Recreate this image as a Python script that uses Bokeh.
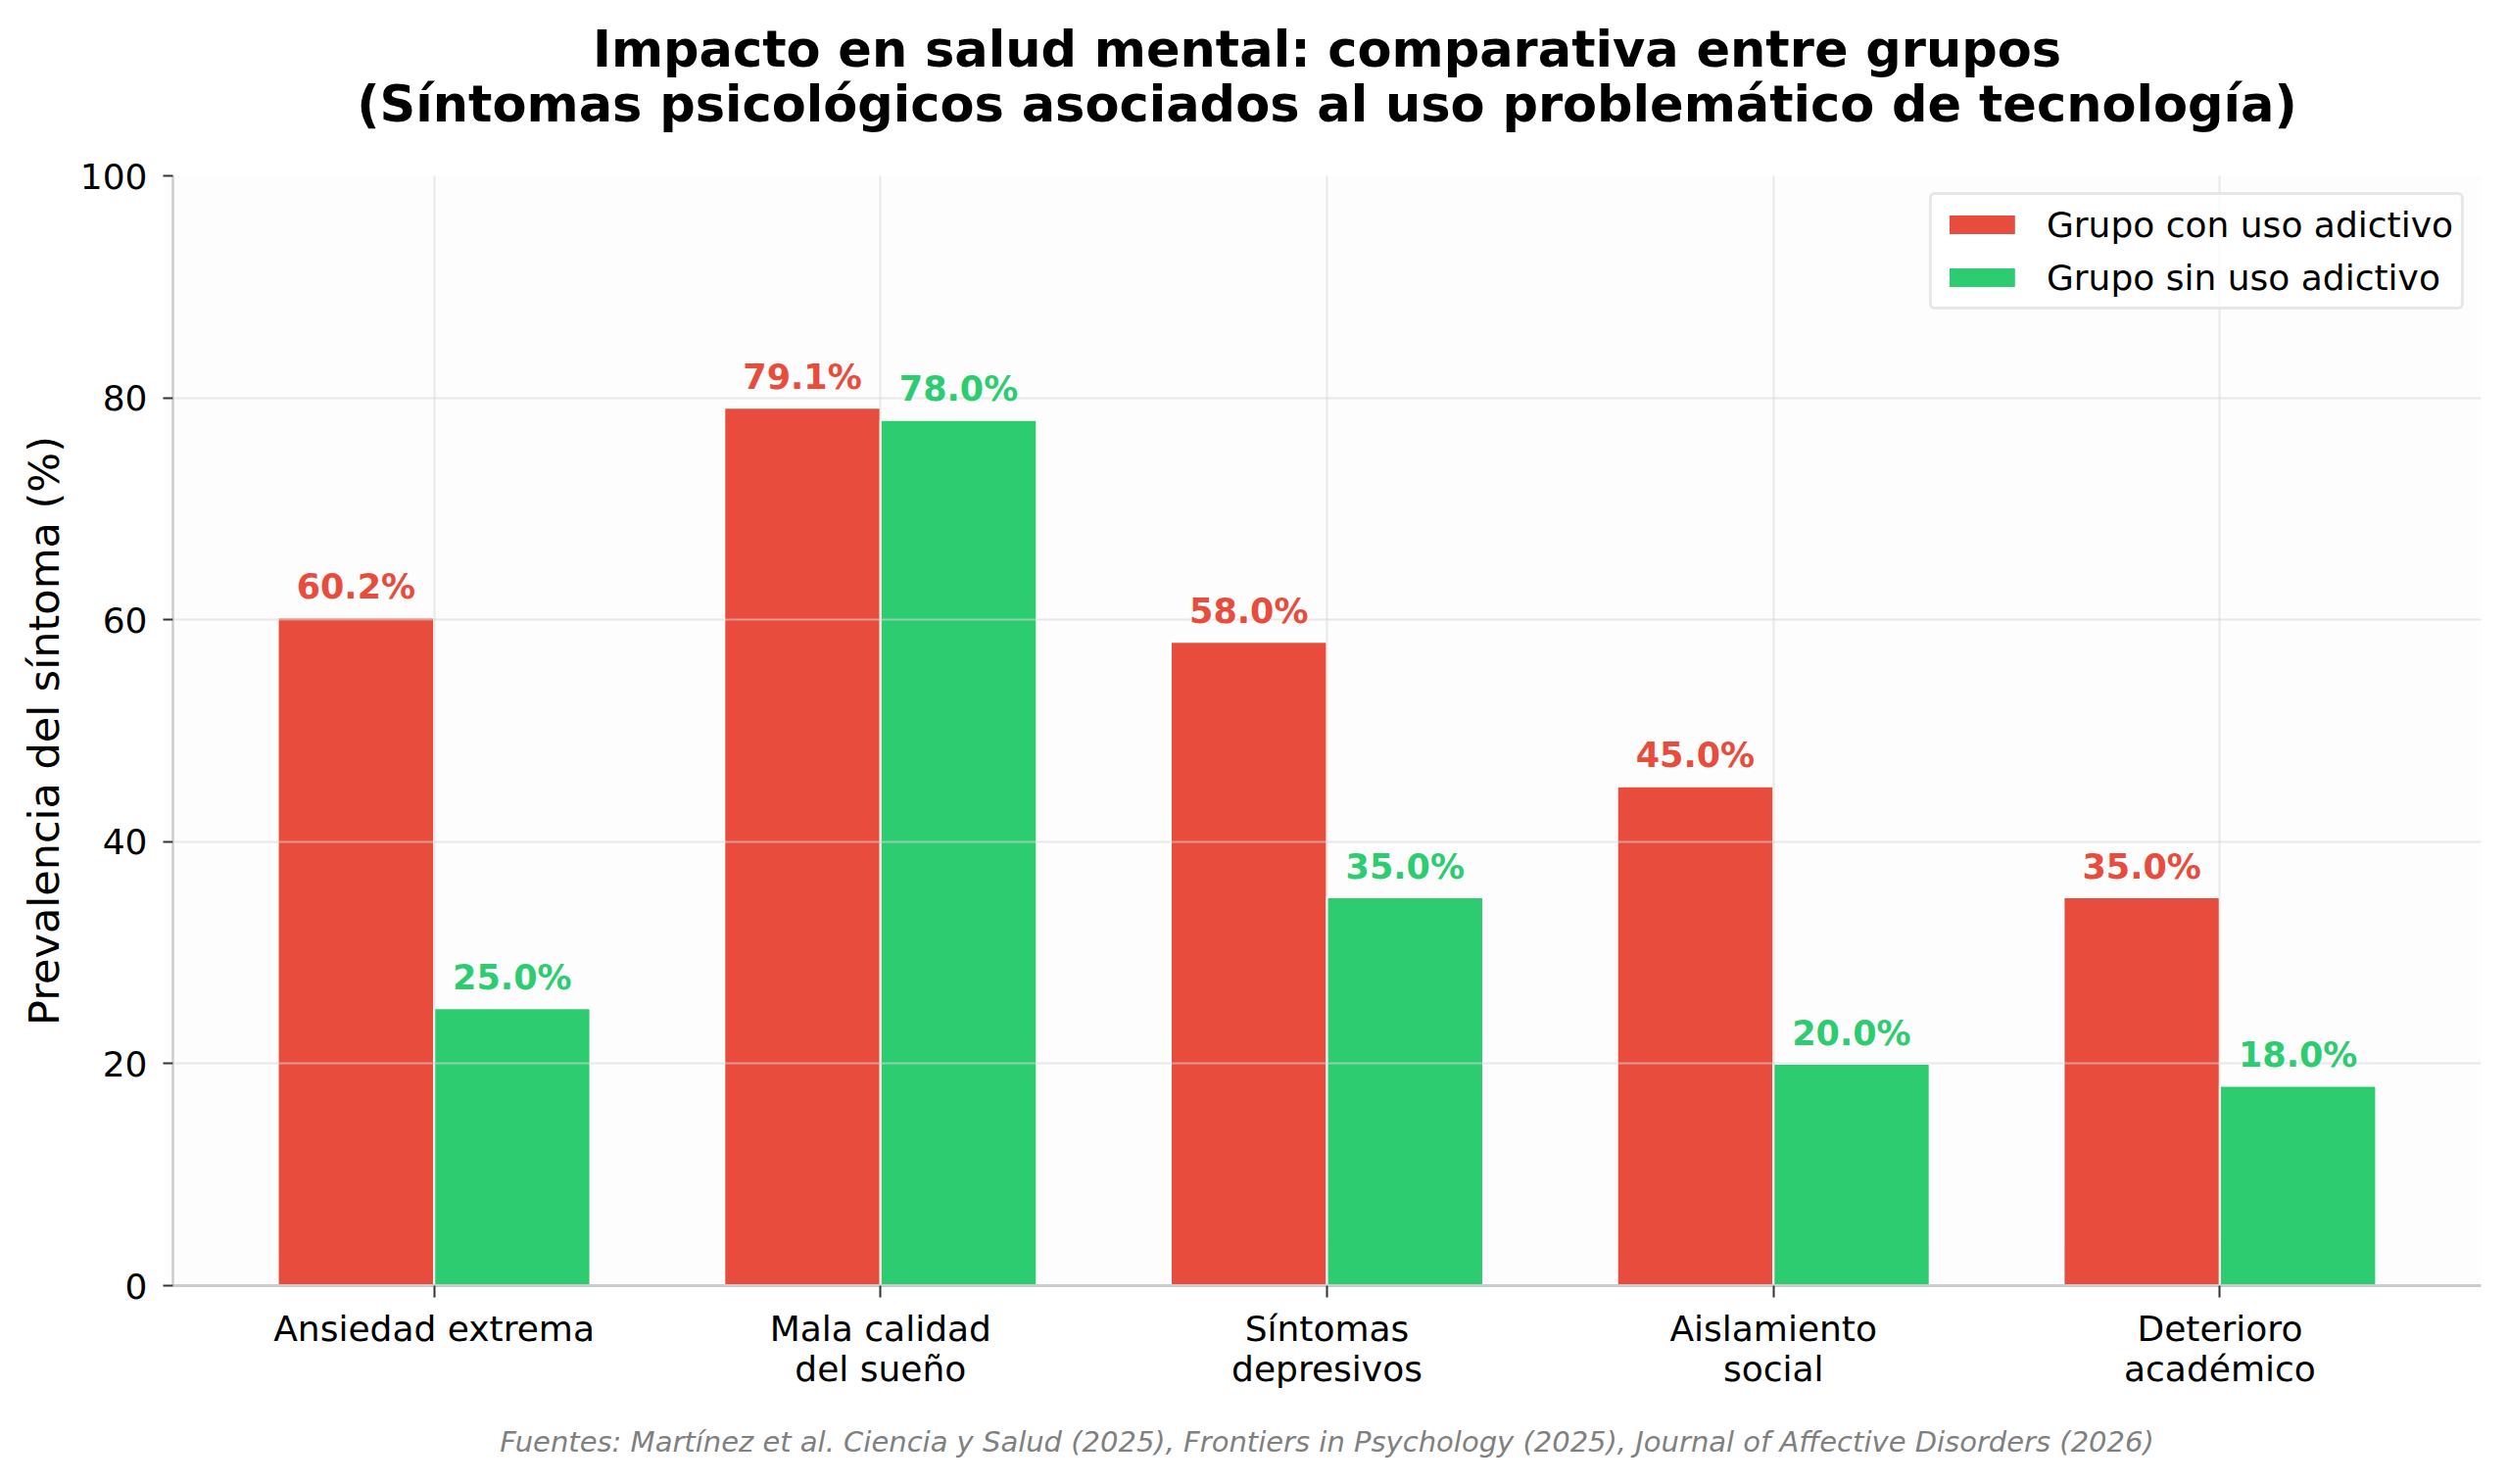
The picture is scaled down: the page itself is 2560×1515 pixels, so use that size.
from bokeh.plotting import figure
from bokeh.models import ColumnDataSource, Range1d, FixedTicker, Title
from bokeh.transform import dodge
from bokeh.core.properties import value
from bokeh.embed import file_html
from bokeh.resources import INLINE

# ---- data ----
categories = ["Ansiedad extrema", "Mala calidad\ndel sueño", "Síntomas\ndepresivos",
              "Aislamiento\nsocial", "Deterioro\nacadémico"]
series_names = ["Grupo con uso adictivo", "Grupo sin uso adictivo"]
con_adictivo = [60.2, 79.1, 58.0, 45.0, 35.0]
sin_adictivo = [25.0, 78.0, 35.0, 20.0, 18.0]
y_ticks = [0, 20, 40, 60, 80, 100]
title_line1 = "Impacto en salud mental: comparativa entre grupos"
title_line2 = "(Síntomas psicológicos asociados al uso problemático de tecnología)"
y_label = "Prevalencia del síntoma (%)"
footnote = ("Fuentes: Martínez et al. Ciencia y Salud (2025), Frontiers in Psychology (2025), "
            "Journal of Affective Disorders (2026)")

RED = "#e74c3c"
GREEN = "#2ecc71"
FONT = "DejaVu Sans"
BAR_W = 0.35

idx = list(range(len(categories)))
src = ColumnDataSource(dict(
    x=idx,
    a=con_adictivo,
    b=sin_adictivo,
    a_lab_y=[v + 1 for v in con_adictivo],
    b_lab_y=[v + 1 for v in sin_adictivo],
    a_txt=[f"{v:.1f}%" for v in con_adictivo],
    b_txt=[f"{v:.1f}%" for v in sin_adictivo],
))

p = figure(width=2544, height=1499,
           x_range=Range1d(-0.585, len(categories) - 1 + 0.585),
           y_range=Range1d(0, 100),
           output_backend="svg", toolbar_location=None,
           min_border_left=176, min_border_right=12,
           min_border_top=179, min_border_bottom=187)
p.background_fill_color = "#fdfdfd"
p.border_fill_color = "white"
p.outline_line_color = None

# title: line 2 added first so it sits next to the frame
p.add_layout(Title(text=title_line2, align="center", text_font=FONT,
                   text_font_size="51px", text_font_style="bold",
                   text_color="black", standoff=88), "above")
p.add_layout(Title(text=title_line1, align="center", text_font=FONT,
                   text_font_size="51px", text_font_style="bold",
                   text_color="black", standoff=-98), "above")

# bars
p.vbar(x=dodge("x", -BAR_W / 2, range=p.x_range), top="a", width=BAR_W, source=src,
       fill_color=RED, line_color="white", line_width=2, legend_label=series_names[0])
p.vbar(x=dodge("x", BAR_W / 2, range=p.x_range), top="b", width=BAR_W, source=src,
       fill_color=GREEN, line_color="white", line_width=2, legend_label=series_names[1])

# value labels
t1 = p.text(x=dodge("x", -BAR_W / 2, range=p.x_range), y="a_lab_y", text="a_txt", source=src,
            text_font=value(FONT), text_font_size="35px", text_font_style="bold",
            text_color=RED, text_align="center", text_baseline="bottom")
t2 = p.text(x=dodge("x", BAR_W / 2, range=p.x_range), y="b_lab_y", text="b_txt", source=src,
            text_font=value(FONT), text_font_size="35px", text_font_style="bold",
            text_color=GREEN, text_align="center", text_baseline="bottom")
t1.level = "overlay"
t2.level = "overlay"

# grids
p.xgrid.ticker = FixedTicker(ticks=idx)
p.ygrid.ticker = FixedTicker(ticks=y_ticks)
for g in (p.xgrid, p.ygrid):
    g.grid_line_color = "#d9d9d9"
    g.grid_line_alpha = 0.55
    g.grid_line_width = 2
    g.level = "annotation"

# x axis (footnote is carried as the axis label, centred under the plot)
xa = p.xaxis[0]
xa.ticker = FixedTicker(ticks=idx)
xa.major_label_overrides = {i: c for i, c in zip(idx, categories)}
xa.major_label_text_font = FONT
xa.major_label_text_font_size = "36px"
xa.major_label_text_color = "black"
xa.major_label_text_line_height = 1.0
xa.major_label_standoff = 11
xa.axis_line_color = "#cccccc"
xa.axis_line_width = 3
xa.major_tick_line_color = "#333333"
xa.major_tick_line_width = 2
xa.major_tick_out = 12
xa.major_tick_in = 0
xa.minor_tick_line_color = None
xa.axis_label = footnote
xa.axis_label_text_font = FONT
xa.axis_label_text_font_size = "29px"
xa.axis_label_text_font_style = "italic"
xa.axis_label_text_color = "#808080"
xa.axis_label_standoff = 34

ya = p.yaxis[0]
ya.ticker = FixedTicker(ticks=y_ticks)
ya.major_label_text_font = FONT
ya.major_label_text_font_size = "36px"
ya.major_label_text_color = "black"
ya.major_label_standoff = 16
ya.axis_label = y_label
ya.axis_label_text_font = FONT
ya.axis_label_text_font_size = "43px"
ya.axis_label_text_font_style = "normal"
ya.axis_label_text_color = "black"
ya.axis_label_standoff = 9
ya.axis_line_color = "#cccccc"
ya.axis_line_width = 2.5
ya.major_tick_line_color = "#333333"
ya.major_tick_line_width = 2
ya.major_tick_out = 10
ya.major_tick_in = 0
ya.minor_tick_line_color = None

# legend
lg = p.legend[0]
lg.location = "top_right"
lg.margin = 17
lg.padding = 8
lg.spacing = 10
lg.label_text_font = FONT
lg.label_text_font_size = "36px"
lg.label_text_color = "black"
lg.glyph_width = 86
lg.glyph_height = 26
lg.label_standoff = 23
lg.label_height = 44
lg.border_line_color = "#cfcfcf"
lg.border_line_width = 3
lg.border_radius = 6
lg.background_fill_color = "white"
lg.background_fill_alpha = 0.85

open("out.html", "w").write(file_html(p, INLINE))
